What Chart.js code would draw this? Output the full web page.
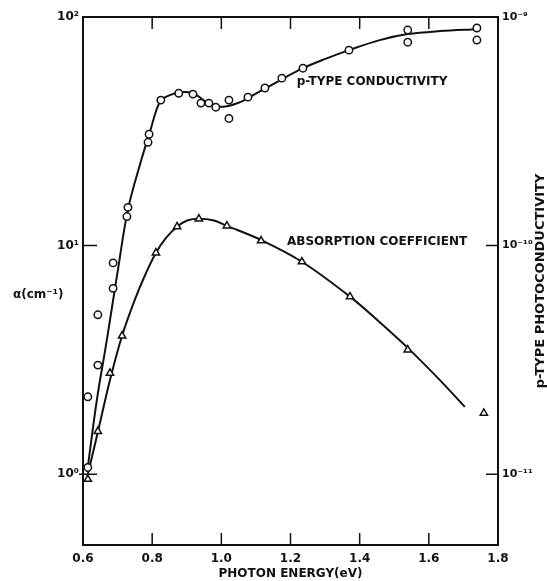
<!DOCTYPE html>
<html>
<head>
<meta charset="utf-8">
<script src="https://cdn.jsdelivr.net/npm/chart.js@4.4.0/dist/chart.umd.min.js"></script>
<style>
  html, body { margin: 0; padding: 0; background: #fff; }
  canvas { display: block; }
</style>
</head>
<body>
<canvas id="chart" width="547" height="581"></canvas>
<script>
// p-type photoconductivity, measured points (right axis)
const condEnergy = [0.614, 0.614, 0.643, 0.643, 0.687, 0.687, 0.727, 0.730, 0.788, 0.791,
  0.825, 0.877, 0.918, 0.941, 0.964, 0.984, 1.022, 1.022, 1.077, 1.126, 1.175, 1.236,
  1.369, 1.539, 1.539, 1.739, 1.739];
const condValue = [1.07e-11, 2.18e-11, 3.0e-11, 4.98e-11, 6.5e-11, 8.4e-11, 1.34e-10, 1.47e-10, 2.83e-10, 3.07e-10,
  4.33e-10, 4.64e-10, 4.6e-10, 4.2e-10, 4.2e-10, 4.03e-10, 4.33e-10, 3.6e-10, 4.46e-10, 4.89e-10, 5.4e-10, 5.97e-10,
  7.16e-10, 8.77e-10, 7.76e-10, 8.95e-10, 7.93e-10];

// smooth curve drawn through the conductivity points
const condCurveEnergy = [0.612, 0.640, 0.669, 0.701, 0.730, 0.765, 0.794, 0.823, 0.851, 0.880,
  0.918, 0.953, 0.982, 1.016, 1.054, 1.077, 1.123, 1.175, 1.236, 1.299, 1.369, 1.458, 1.539, 1.632, 1.739];
const condCurveValue = [1.02e-11, 2.11e-11, 3.87e-11, 7.85e-11, 1.44e-10, 2.27e-10, 3.16e-10, 4.28e-10, 4.55e-10, 4.69e-10,
  4.64e-10, 4.29e-10, 4.07e-10, 4.07e-10, 4.24e-10, 4.42e-10, 4.83e-10, 5.34e-10, 5.97e-10, 6.54e-10, 7.16e-10, 7.92e-10,
  8.42e-10, 8.68e-10, 8.85e-10];

// absorption coefficient alpha (cm^-1), measured points (left axis)
const absEnergy = [0.614, 0.643, 0.678, 0.713, 0.811, 0.872, 0.935, 1.016, 1.115, 1.233, 1.372, 1.539, 1.759];
const absValue = [0.95, 1.54, 2.77, 4.03, 9.3, 12.1, 13.1, 12.2, 10.5, 8.5, 5.98, 3.5, 1.85];

// smooth curve through the absorption points
const absCurveEnergy = [0.612, 0.643, 0.678, 0.713, 0.750, 0.779, 0.811, 0.840, 0.872, 0.903,
  0.935, 0.976, 1.016, 1.114, 1.233, 1.372, 1.458, 1.539, 1.632, 1.704];
const absCurveValue = [0.97, 1.53, 2.58, 4.03, 5.8, 7.4, 9.3, 10.8, 12.1, 12.9,
  13.1, 12.9, 12.2, 10.6, 8.5, 5.98, 4.62, 3.57, 2.58, 1.97];

const energyTicks = [0.6, 0.8, 1.0, 1.2, 1.4, 1.6, 1.8];
const alphaTicks = [1, 10, 100];
const alphaTickLabels = ['10\u2070', '10\u00b9', '10\u00b2'];
const photoTicks = [1e-11, 1e-10, 1e-9];
const photoTickLabels = ['10\u207b\u00b9\u00b9', '10\u207b\u00b9\u2070', '10\u207b\u2079'];

const ink = '#111';
const family = '"DejaVu Sans", sans-serif';
const bold = 'bold 12px ' + family;

const pairs = (xs, ys) => xs.map((e, i) => ({ x: e, y: ys[i] }));

// frame, inward tick marks and the lettering of the original figure
const paperPlugin = {
  id: 'paper',
  afterDraw(chart) {
    const { ctx, chartArea: a, scales } = chart;
    const x = scales.x, y = scales.y, y2 = scales.y2;
    ctx.save();
    ctx.strokeStyle = ink;
    ctx.lineWidth = 2;
    ctx.strokeRect(a.left, a.top, a.right - a.left, a.bottom - a.top);

    ctx.lineWidth = 1.5;
    ctx.beginPath();
    energyTicks.slice(1, -1).forEach(v => {
      const px = x.getPixelForValue(v);
      ctx.moveTo(px, a.bottom); ctx.lineTo(px, a.bottom - 12);
      ctx.moveTo(px, a.top); ctx.lineTo(px, a.top + 12);
    });
    alphaTicks.slice(0, 2).forEach(v => {
      const py = y.getPixelForValue(v);
      ctx.moveTo(a.left - (v === 1 ? 4 : 0), py); ctx.lineTo(a.left + 14, py);
    });
    photoTicks.slice(0, 2).forEach(v => {
      const py = y2.getPixelForValue(v);
      ctx.moveTo(a.right, py); ctx.lineTo(a.right - 12, py);
    });
    ctx.stroke();

    ctx.fillStyle = ink;
    ctx.font = bold;
    ctx.textBaseline = 'middle';
    ctx.textAlign = 'left';
    ctx.fillText('p-TYPE CONDUCTIVITY', x.getPixelForValue(1.218), y.getPixelForValue(51.9));
    ctx.fillText('ABSORPTION COEFFICIENT', x.getPixelForValue(1.19), y.getPixelForValue(10.4));

    ctx.fillText('\u03b1(cm\u207b\u00b9)', 13, 295);

    ctx.translate(541, (a.top + a.bottom) / 2);
    ctx.rotate(-Math.PI / 2);
    ctx.textAlign = 'center';
    ctx.font = 'bold 13px ' + family;
    ctx.fillText('p-TYPE PHOTOCONDUCTIVITY', 0, 0);
    ctx.restore();
  }
};

const tickFont = { family: family, size: 12, weight: 'bold' };

new Chart(document.getElementById('chart'), {
  type: 'scatter',
  data: {
    datasets: [
      {
        label: 'p-type conductivity curve',
        data: pairs(condCurveEnergy, condCurveValue),
        yAxisID: 'y2',
        showLine: true,
        borderColor: ink,
        borderWidth: 2,
        pointRadius: 0,
        tension: 0.35,
        order: 2
      },
      {
        label: 'absorption curve',
        data: pairs(absCurveEnergy, absCurveValue),
        yAxisID: 'y',
        showLine: true,
        borderColor: ink,
        borderWidth: 2,
        pointRadius: 0,
        tension: 0.35,
        order: 2
      },
      {
        label: 'p-type conductivity',
        data: pairs(condEnergy, condValue),
        yAxisID: 'y2',
        pointStyle: 'circle',
        pointRadius: 3.7,
        borderWidth: 1.5,
        borderColor: ink,
        backgroundColor: '#fff',
        order: 1
      },
      {
        label: 'absorption coefficient',
        data: pairs(absEnergy, absValue),
        yAxisID: 'y',
        pointStyle: 'triangle',
        pointRadius: 4.2,
        borderWidth: 1.5,
        borderColor: ink,
        backgroundColor: '#fff',
        order: 1
      }
    ]
  },
  options: {
    responsive: false,
    animation: false,
    devicePixelRatio: 1,
    layout: { padding: { top: 17, left: 0, right: 0, bottom: 0 } },
    plugins: { legend: { display: false }, tooltip: { enabled: false } },
    scales: {
      x: {
        type: 'linear',
        min: 0.6,
        max: 1.8,
        afterBuildTicks: s => { s.ticks = energyTicks.map(v => ({ value: v })); },
        afterFit: s => { s.height = 36; },
        grid: { display: false, drawTicks: false, tickLength: 0 },
        border: { display: false },
        ticks: {
          color: ink, font: tickFont,
          padding: 7, maxRotation: 0,
          callback: v => v.toFixed(1)
        },
        title: {
          display: true, text: 'PHOTON ENERGY(eV)', color: ink,
          font: tickFont,
          padding: { top: 0, bottom: 0 }
        }
      },
      y: {
        type: 'logarithmic',
        position: 'left',
        min: 0.49,
        max: 100,
        afterBuildTicks: s => { s.ticks = alphaTicks.map(v => ({ value: v })); },
        afterFit: s => { s.width = 83; },
        grid: { display: false, drawTicks: false, tickLength: 0 },
        border: { display: false },
        ticks: {
          color: ink, font: tickFont,
          padding: 4,
          callback: (v, i) => alphaTickLabels[i]
        }
      },
      y2: {
        type: 'logarithmic',
        position: 'right',
        min: 0.49e-11,
        max: 1e-9,
        afterBuildTicks: s => { s.ticks = photoTicks.map(v => ({ value: v })); },
        afterFit: s => { s.width = 49; },
        grid: { display: false, drawTicks: false, tickLength: 0 },
        border: { display: false },
        ticks: {
          color: ink, font: { family: family, size: 11, weight: 'bold' },
          padding: 4,
          callback: (v, i) => photoTickLabels[i]
        }
      }
    }
  },
  plugins: [paperPlugin]
});
</script>
</body>
</html>
